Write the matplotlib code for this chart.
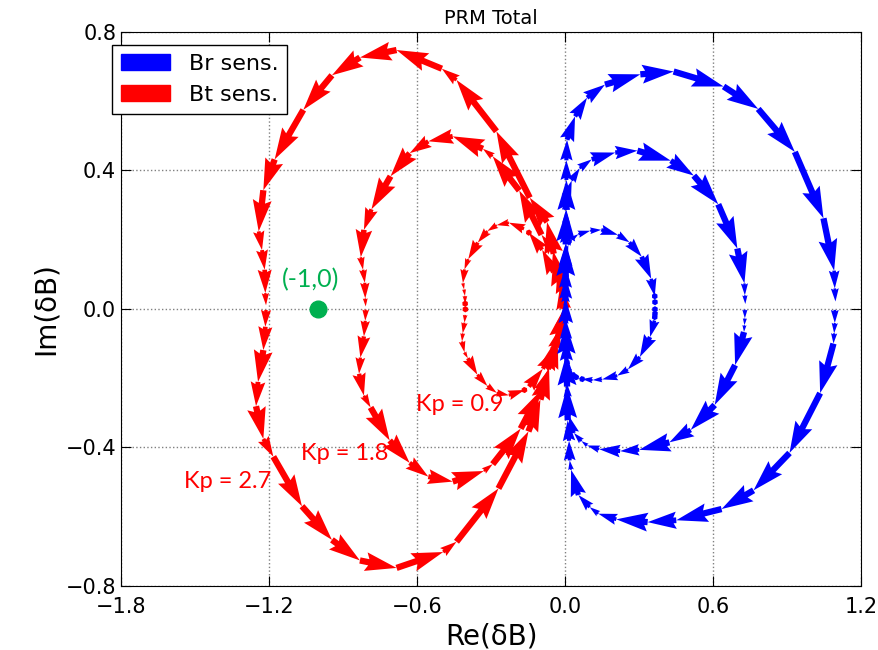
import numpy as np
import matplotlib.pyplot as plt
from matplotlib.patches import Patch

# Sensitivity at unit gain, sampled around each loop (far crossing -> origin -> back)
bt_re = [-0.449, -0.450, -0.453, -0.461, -0.464, -0.453, -0.438, -0.395, -0.350,
         -0.308, -0.253, -0.183, -0.163, -0.100, -0.055, -0.037, -0.024, -0.011,
         -0.002, -0.007, -0.017, -0.027, -0.053, -0.103, -0.163, -0.185, -0.253,
         -0.308, -0.350, -0.393, -0.436, -0.453, -0.460, -0.455, -0.451, -0.450,
         -0.449]
bt_im = [-0.001, -0.019, -0.044, -0.078, -0.104, -0.139, -0.158, -0.211, -0.247,
         -0.269, -0.277, -0.260, -0.249, -0.192, -0.131, -0.097, -0.063, -0.030,
         0.000, 0.026, 0.059, 0.093, 0.119, 0.190, 0.245, 0.257, 0.277,
         0.269, 0.250, 0.213, 0.160, 0.127, 0.083, 0.063, 0.042, 0.017,
         0.004]

br_re = [0.405, 0.405, 0.404, 0.403, 0.383, 0.337, 0.283, 0.235, 0.167, 0.124,
         0.077, 0.050, 0.037, 0.020, 0.009, 0.007, 0.006, 0.004, 0.003, 0.002,
         0.001, 0.001, 0.001, 0.001, 0.002, 0.002, 0.002, 0.003, 0.015, 0.033,
         0.060, 0.113, 0.163, 0.238, 0.290, 0.345, 0.388, 0.404, 0.405, 0.406]
br_im = [-0.001, -0.015, -0.026, -0.037, -0.090, -0.154, -0.194, -0.214, -0.226, -0.228,
         -0.225, -0.219, -0.212, -0.199, -0.172, -0.162, -0.141, -0.119, -0.083, -0.048,
         -0.015, 0.011, 0.034, 0.069, 0.106, 0.138, 0.159, 0.181, 0.206, 0.226,
         0.240, 0.251, 0.254, 0.238, 0.214, 0.168, 0.097, 0.041, 0.022, 0.008]

gains = [0.9, 1.8, 2.7]
gain_labels = ['Kp = 0.9', 'Kp = 1.8', 'Kp = 2.7']
gain_label_x = [-0.426, -0.892, -1.366]
gain_label_y = [-0.277, -0.416, -0.497]

crit_x, crit_y = -1.0, 0.0

fig = plt.figure(figsize=(8.79, 6.5), dpi=100)
ax = fig.add_axes([0.1377, 0.0985, 0.8419, 0.8523])
ax.set_xlim(-1.8, 1.2)
ax.set_ylim(-0.8, 0.8)


def loop_arrows(re, im, kp, color, z):
    x = kp * np.asarray(re)
    y = kp * np.asarray(im)
    # each arrow runs from one sample to the next
    ax.quiver(x[:-1], y[:-1], np.diff(x), np.diff(y), color=color,
              angles='xy', scale_units='xy', scale=1,
              width=0.0085, zorder=z)


for kp in gains:
    loop_arrows(bt_re, bt_im, kp, '#ff0000', 3)
for kp in gains:
    loop_arrows(br_re, br_im, kp, '#0000ff', 4)

kp_font = ['Lato', 'DejaVu Sans']
for txt, tx, ty in zip(gain_labels, gain_label_x, gain_label_y):
    ax.text(tx, ty, txt, color='#ff0000', fontsize=17, family=kp_font,
            ha='center', va='center', zorder=6)

ax.plot(crit_x, crit_y, 'o', color='#00b050', markersize=12, zorder=6)
ax.text(-1.03, 0.05, '(-1,0)', color='#00b050', fontsize=18, family=kp_font,
        ha='center', va='bottom', zorder=6)

ax.set_xticks([-1.8, -1.2, -0.6, 0.0, 0.6, 1.2])
ax.set_yticks([-0.8, -0.4, 0.0, 0.4, 0.8])
ax.tick_params(direction='in', top=True, right=True, length=7, labelsize=15)
ax.tick_params(axis='x', pad=8)
ax.grid(True, linestyle=':', color='0.5', linewidth=1)

ax.set_title('PRM Total', fontsize=14, pad=6)
ax.set_xlabel('Re(δB)', fontsize=20)
ax.set_ylabel('Im(δB)', fontsize=20)

handles = [Patch(color='#0000ff', label='Br sens.'),
           Patch(color='#ff0000', label='Bt sens.')]
ax.legend(handles=handles, loc='upper left', bbox_to_anchor=(-0.012, 0.977),
          borderaxespad=0, fontsize=16, fancybox=False, edgecolor='k',
          framealpha=1, handlelength=2.2, handletextpad=0.85)

fig.savefig('out.png', dpi=100)
